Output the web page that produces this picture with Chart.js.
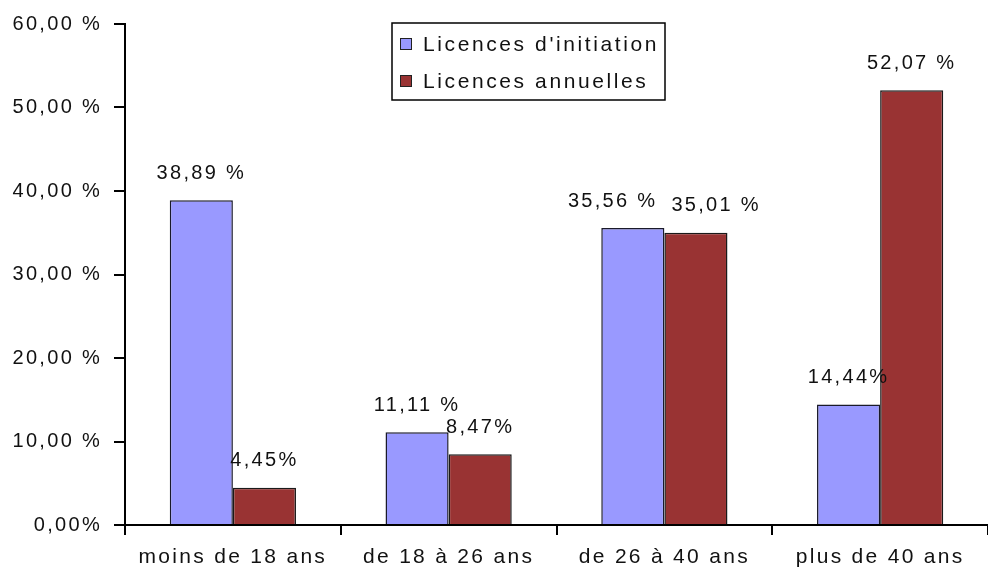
<!DOCTYPE html>
<html>
<head>
<meta charset="utf-8">
<script src="https://cdn.jsdelivr.net/npm/chart.js@4.4.0/dist/chart.umd.min.js"></script>
<style>
  html, body { margin: 0; padding: 0; background: #fff; }
  #wrap { width: 988px; height: 580px; }
</style>
</head>
<body>
<div id="wrap"><canvas id="c" width="988" height="580"></canvas></div>
<script>
// données
const categories = ["moins de 18 ans", "de 18 à 26 ans", "de 26 à 40 ans", "plus de 40 ans"];
const initiation = [38.89, 11.11, 35.56, 14.44];
const annuelles = [4.45, 8.47, 35.01, 52.07];
const initiationLabels = ["38,89 %", "11,11 %", "35,56 %", "14,44%"];
const annuellesLabels = ["4,45%", "8,47%", "35,01 %", "52,07 %"];
const yTickLabels = { 0: "0,00%", 10: "10,00 %", 20: "20,00 %", 30: "30,00 %", 40: "40,00 %", 50: "50,00 %", 60: "60,00 %" };

const FONT = "'Liberation Sans', Arial, sans-serif";

// étiquettes de valeurs + légende encadrée
const extras = {
  id: "extras",
  beforeDraw(chart) {
    chart.ctx.letterSpacing = "2.3px";
  },
  afterDatasetsDraw(chart) {
    const ctx = chart.ctx;
    const labels = [initiationLabels, annuellesLabels];
    ctx.save();
    ctx.font = "20px " + FONT;
    ctx.fillStyle = "#111";
    ctx.textAlign = "center";
    ctx.textBaseline = "middle";
    const m0 = chart.getDatasetMeta(0).data;
    const m1 = chart.getDatasetMeta(1).data;
    m0.forEach((b0, j) => {
      const b1 = m1[j];
      let x0 = b0.x, x1 = b1.x;
      const w0 = ctx.measureText(labels[0][j]).width;
      const w1 = ctx.measureText(labels[1][j]).width;
      // écarter les étiquettes qui se chevauchent
      const y0 = b0.y - 27, y1 = b1.y - 27;
      if (Math.abs(y0 - y1) < 22) {
        const gap = (x1 - w1 / 2) - (x0 + w0 / 2);
        if (gap < 14) {
          const d = (14 - gap) / 2;
          x0 -= d; x1 += d;
        }
      }
      ctx.fillText(labels[0][j], x0, y0);
      ctx.fillText(labels[1][j], x1, y1);
    });

    // légende
    const x = 392, y = 23, w = 273, h = 77;
    ctx.lineWidth = 1.5;
    ctx.strokeStyle = "#000";
    ctx.fillStyle = "#fff";
    ctx.fillRect(x, y, w, h);
    ctx.strokeRect(x, y, w, h);
    ctx.font = "21px " + FONT;
    ctx.letterSpacing = "2.6px";
    ctx.textAlign = "left";
    ctx.textBaseline = "middle";
    chart.data.datasets.forEach((ds, i) => {
      const cy = y + 21 + i * 37;
      ctx.fillStyle = ds.backgroundColor;
      ctx.fillRect(400, cy - 6, 12, 12);
      ctx.lineWidth = 1;
      ctx.strokeStyle = "#222";
      ctx.strokeRect(400.5, cy - 5.5, 11, 11);
      ctx.fillStyle = "#111";
      ctx.fillText(ds.label, 423, cy + 1);
    });
    ctx.restore();
  }
};

new Chart(document.getElementById("c"), {
  type: "bar",
  data: {
    labels: categories,
    datasets: [
      {
        label: "Licences d'initiation",
        data: initiation,
        backgroundColor: "#9999FF",
        borderColor: "#1a1a2a",
        borderWidth: 1.5,
        categoryPercentage: 0.585,
        barPercentage: 1
      },
      {
        label: "Licences annuelles",
        data: annuelles,
        backgroundColor: "#993333",
        borderColor: "#1a1a1a",
        borderWidth: 1.5,
        categoryPercentage: 0.585,
        barPercentage: 1
      }
    ]
  },
  options: {
    responsive: false,
    animation: false,
    layout: { padding: { top: 8, right: 0, left: 0, bottom: 0 } },
    plugins: {
      legend: { display: false },
      tooltip: { enabled: false }
    },
    scales: {
      x: {
        offset: true,
        grid: { offset: true, drawOnChartArea: false, tickLength: 10, color: "#000", lineWidth: 2 },
        border: { color: "#000", width: 2 },
        ticks: { color: "#111", font: { family: FONT, size: 21 }, padding: 10 },
        afterFit(scale) { scale.height = 55; }
      },
      y: {
        min: 0,
        max: 60,
        grid: { drawOnChartArea: false, tickLength: 11, color: "#000", lineWidth: 2 },
        border: { color: "#000", width: 2 },
        ticks: {
          stepSize: 10,
          color: "#111",
          font: { family: FONT, size: 20 },
          padding: 12,
          callback: v => yTickLabels[v]
        },
        afterFit(scale) { scale.width = 125; }
      }
    }
  },
  plugins: [extras]
});
</script>
</body>
</html>
